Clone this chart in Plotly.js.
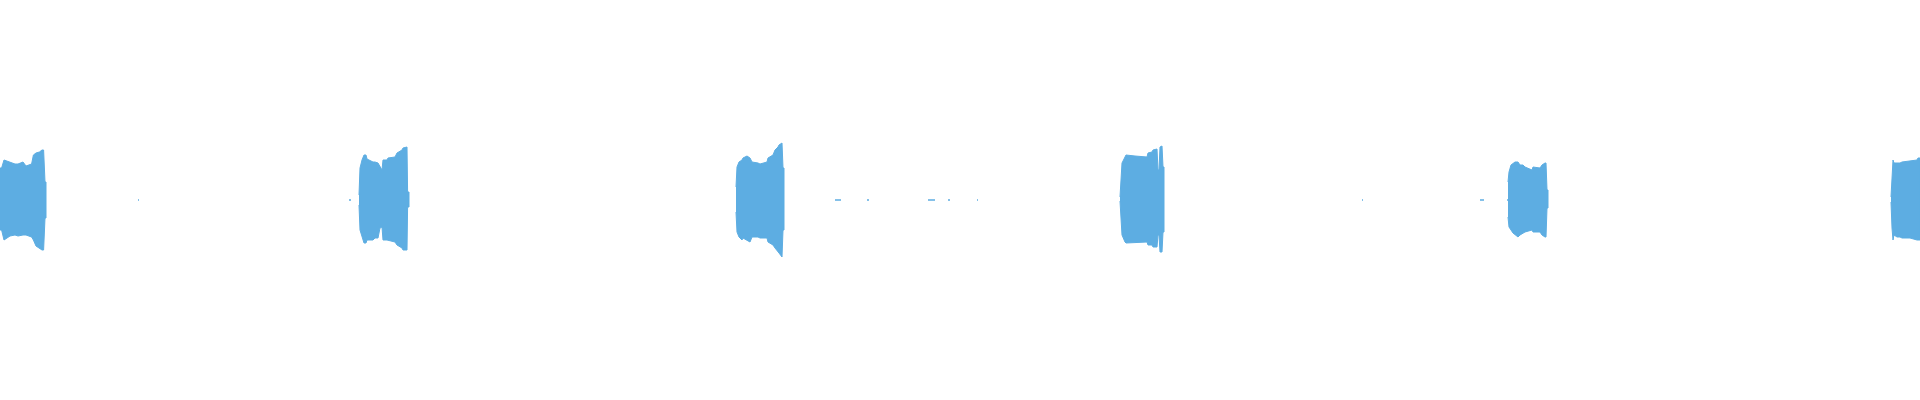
<!DOCTYPE html>
<html>
<head>
<meta charset="utf-8">
<script src="https://cdn.plot.ly/plotly-3.0.1.min.js"></script>
<style>
  html, body { margin: 0; padding: 0; background: #ffffff; }
  #chart { width: 1920px; height: 400px; }
</style>
</head>
<body>
<div id="chart"></div>
<script>
// Waveform envelope per burst: time (s), upper and lower amplitude
const burst1Time  = [0, 0.008, 0.02, 0.035, 0.05, 0.075, 0.09, 0.115, 0.13, 0.158, 0.167, 0.18, 0.197, 0.21, 0.218, 0.225, 0.23];
const burst1Upper = [0.16, 0.16, 0.2, 0.195, 0.19, 0.18, 0.18, 0.19, 0.17, 0.18, 0.225, 0.235, 0.24, 0.25, 0.25, 0.09, 0.09];
const burst1Lower = [-0.15, -0.15, -0.2, -0.19, -0.18, -0.175, -0.18, -0.175, -0.175, -0.185, -0.2, -0.23, -0.24, -0.25, -0.25, -0.09, -0.09];

const burst2Time  = [1.795, 1.8, 1.81, 1.82, 1.83, 1.835, 1.865, 1.875, 1.89, 1.9, 1.91, 1.915, 1.935, 1.94, 1.975, 1.985, 2.01, 2.015, 2.035, 2.038, 2.045];
const burst2Upper = [0.025, 0.16, 0.2, 0.225, 0.225, 0.205, 0.19, 0.19, 0.185, 0.165, 0.15, 0.2, 0.2, 0.21, 0.215, 0.235, 0.25, 0.26, 0.265, 0.04, 0.04];
const burst2Lower = [-0.025, -0.15, -0.185, -0.215, -0.215, -0.2, -0.2, -0.19, -0.19, -0.14, -0.135, -0.2, -0.2, -0.2, -0.21, -0.225, -0.24, -0.25, -0.25, -0.035, -0.035];

const burst3Time  = [3.68, 3.685, 3.695, 3.71, 3.715, 3.735, 3.75, 3.76, 3.79, 3.8, 3.835, 3.84, 3.865, 3.875, 3.89, 3.895, 3.91, 3.915, 3.92];
const burst3Upper = [0.065, 0.165, 0.19, 0.2, 0.21, 0.22, 0.21, 0.19, 0.185, 0.18, 0.19, 0.21, 0.225, 0.25, 0.265, 0.275, 0.285, 0.16, 0.16];
const burst3Lower = [-0.06, -0.16, -0.185, -0.2, -0.19, -0.2, -0.21, -0.185, -0.185, -0.19, -0.19, -0.21, -0.225, -0.24, -0.26, -0.265, -0.285, -0.15, -0.15];

const burst4Time  = [5.6, 5.605, 5.61, 5.625, 5.63, 5.675, 5.735, 5.74, 5.76, 5.765, 5.785, 5.79, 5.795, 5.8, 5.81, 5.815, 5.82];
const burst4Upper = [0.015, 0.11, 0.185, 0.215, 0.225, 0.22, 0.215, 0.235, 0.24, 0.25, 0.255, 0.15, 0.15, 0.265, 0.27, 0.165, 0.165];
const burst4Lower = [-0.005, -0.09, -0.175, -0.21, -0.215, -0.215, -0.21, -0.225, -0.225, -0.235, -0.235, -0.175, -0.175, -0.26, -0.26, -0.16, -0.16];

const burst5Time  = [7.54, 7.545, 7.555, 7.565, 7.575, 7.59, 7.6, 7.615, 7.625, 7.66, 7.665, 7.7, 7.71, 7.725, 7.73, 7.735, 7.74];
const burst5Upper = [0.09, 0.14, 0.175, 0.185, 0.19, 0.19, 0.175, 0.175, 0.165, 0.15, 0.165, 0.16, 0.175, 0.185, 0.185, 0.05, 0.05];
const burst5Lower = [-0.085, -0.135, -0.15, -0.165, -0.175, -0.185, -0.175, -0.165, -0.16, -0.15, -0.16, -0.16, -0.175, -0.185, -0.185, -0.04, -0.04];

const burst6Time  = [9.455, 9.46, 9.465, 9.47, 9.485, 9.5, 9.51, 9.55, 9.585, 9.59, 9.6];
const burst6Upper = [0.015, 0.14, 0.2, 0.185, 0.185, 0.185, 0.19, 0.195, 0.2, 0.21, 0.21];
const burst6Lower = [-0.01, -0.14, -0.2, -0.175, -0.185, -0.185, -0.19, -0.19, -0.2, -0.2, -0.2];

// Small low-level blips in the silent gaps (start/end time, s)
const blipStart = [0.69, 1.745, 4.175, 4.335, 4.64, 4.74, 4.885, 6.81, 7.4, 7.535];
const blipEnd   = [0.695, 1.755, 4.205, 4.345, 4.675, 4.75, 4.89, 6.815, 7.42, 7.54];

const waveColor = '#5dade2';

const bursts = [
  [burst1Time, burst1Upper, burst1Lower],
  [burst2Time, burst2Upper, burst2Lower],
  [burst3Time, burst3Upper, burst3Lower],
  [burst4Time, burst4Upper, burst4Lower],
  [burst5Time, burst5Upper, burst5Lower],
  [burst6Time, burst6Upper, burst6Lower]
];

const traces = bursts.map(([t, up, lo]) => ({
  type: 'scatter',
  mode: 'lines',
  x: t.concat(t.slice().reverse()),
  y: up.concat(lo.slice().reverse()),
  fill: 'toself',
  fillcolor: waveColor,
  line: { color: waveColor, width: 1 },
  hoverinfo: 'skip'
}));

const bx = [], by = [];
blipStart.forEach((s, i) => {
  bx.push(s, blipEnd[i], null);
  by.push(0, 0, null);
});
traces.push({
  type: 'scatter',
  mode: 'lines',
  x: bx,
  y: by,
  line: { color: waveColor, width: 1.5 },
  connectgaps: false,
  hoverinfo: 'skip'
});

const layout = {
  width: 1920,
  height: 400,
  margin: { l: 0, r: 0, t: 0, b: 0, pad: 0 },
  paper_bgcolor: '#ffffff',
  plot_bgcolor: '#ffffff',
  showlegend: false,
  xaxis: { range: [0, 9.6], visible: false, fixedrange: true },
  yaxis: { range: [-1, 1], visible: false, fixedrange: true }
};

Plotly.newPlot('chart', traces, layout, { displayModeBar: false, staticPlot: true });
</script>
</body>
</html>
